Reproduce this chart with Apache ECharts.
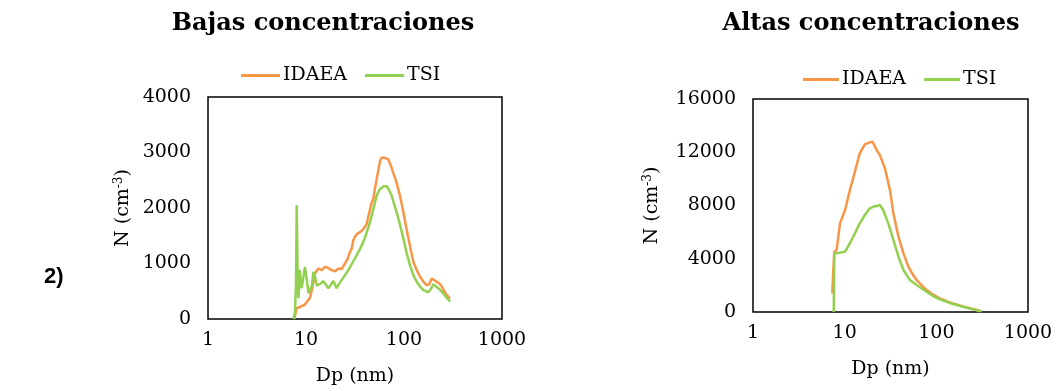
<!DOCTYPE html>
<html>
<head>
<meta charset="utf-8">
<script src="https://cdn.jsdelivr.net/npm/echarts@6/dist/echarts.min.js"></script>
<style>
html,body{margin:0;padding:0;background:#fff;}
#c{width:1063px;height:391px;}
</style>
</head>
<body>
<div id="c"></div>
<script>
// ---- data (Dp in nm, N in cm^-3) ----
const titles = ['Bajas concentraciones', 'Altas concentraciones'];
const seriesNames = ['IDAEA', 'TSI'];
const xTicks = [1, 10, 100, 1000];
const yTicksLow = [0, 1000, 2000, 3000, 4000];
const yTicksHigh = [0, 4000, 8000, 12000, 16000];

const lowIdaeaDp = [7.6,7.72,8.0,8.35,9.0,9.77,10.4,10.98,11.6,12.37,13.35,14.4,15.63,16.8,18.3,19.8,21.4,23.1,25.0,26.5,28,29.3,30.4,31.6,33.5,35.6,38.5,41.6,44,46.8,48.6,50.5,52.6,55,57,59.2,62,64,66.8,69,71.7,75,78,80.9,85,91,98,106,115,124.5,135,146,158,170,180,192,204,216,230,243,258,273,295];
const lowIdaeaN  = [0,30,190,200,230,260,330,380,560,820,910,880,940,920,880,860,910,900,1000,1080,1200,1270,1420,1480,1540,1565,1620,1715,1900,2100,2160,2350,2520,2700,2850,2910,2880,2900,2870,2880,2845,2720,2620,2550,2420,2220,1950,1625,1320,1030,880,760,670,610,620,730,700,670,640,585,500,435,365];

const lowTsiDp = [7.43,7.7,7.9,8.04,8.2,8.36,8.5,8.67,8.85,9.0,9.3,9.75,10.2,10.6,11.0,11.5,11.9,12.4,12.9,13.35,14.2,15.0,15.9,16.9,18,19.0,20.0,20.5,21.5,23.1,25,27,29.5,32.9,35.5,38.5,41.5,45,48.6,52.6,56,61.6,64,66.8,70,75,79,84.2,91,98.6,106,115,124,134.5,145,157,167,177,188,199,211,224,237,251,270,295];
const lowTsiN  = [0,100,600,2050,900,375,600,880,650,555,700,940,700,465,440,600,850,750,600,585,640,685,620,555,620,685,600,555,620,700,790,880,1000,1150,1260,1390,1550,1745,1980,2220,2330,2390,2400,2390,2330,2220,2080,1920,1700,1450,1200,970,800,670,590,525,500,480,540,625,590,555,510,465,390,315];

const highIdaeaDp = [7.33,7.5,7.7,8.17,8.9,10.1,11.4,12.95,14.6,16.6,18.8,20.1,21.2,22.3,24.2,27.5,31.2,34.0,38.6,43.8,49.6,55,60.9,70,78.4,92,109,130,152,180,214,250,300];
const highIdaeaN  = [1400,3000,4530,4660,6660,7660,9160,10540,11920,12590,12740,12800,12500,12170,11790,10790,9160,7410,5655,4405,3400,2850,2400,1980,1650,1300,1030,820,650,500,350,220,75];

const highTsiDp = [7.59,7.65,7.7,8.9,10.1,11.4,12.95,14.6,16.6,18.8,21.3,22.5,24.2,26.3,29.9,34.0,38.6,43.8,51.5,60.9,78.4,92,109,130,152,180,214,260,311];
const highTsiN  = [0,2000,4400,4460,4530,5160,5910,6660,7285,7790,7960,7950,8040,7660,6660,5410,4155,3155,2400,2030,1525,1200,950,760,600,460,325,180,50];

// ---- chart ----
const FONT = 'DejaVu Serif';
const FS = 19;
const ORANGE = '#F79646';
const GREEN = '#92D050';
const pairs = (xs, ys) => xs.map((x, i) => [x, ys[i]]);
const plain = v => String(Math.round(v));

const grids = [
  {left: 208, top: 97, width: 294, height: 224},
  {left: 753, top: 99, width: 275, height: 213}
];
const yTickSets = [yTicksLow, yTicksHigh];

const option = {
  animation: false,
  backgroundColor: '#fff',
  textStyle: {fontFamily: FONT, color: '#000'},
  title: [
    {text: titles[0], left: 318, top: 7, textAlign: 'center',
     textStyle: {fontFamily: FONT, fontWeight: 'bold', fontSize: 24, color: '#000'}},
    {text: titles[1], left: 866, top: 7, textAlign: 'center',
     textStyle: {fontFamily: FONT, fontWeight: 'bold', fontSize: 24, color: '#000'}},
    {text: '2)', left: 39, top: 261,
     textStyle: {fontFamily: 'Liberation Sans', fontWeight: 'bold', fontSize: 22, color: '#000'}}
  ],
  legend: [
    {left: 236, top: 61, itemWidth: 39, itemHeight: 3, itemGap: 18,
     data: seriesNames, icon: 'rect',
     textStyle: {fontFamily: FONT, fontSize: FS, color: '#000', padding: [0,0,0,-2]}},
    {left: 798, top: 65, itemWidth: 36, itemHeight: 3, itemGap: 18,
     data: seriesNames, icon: 'rect',
     textStyle: {fontFamily: FONT, fontSize: FS, color: '#000', padding: [0,0,0,-2]}}
  ],
  grid: grids.map(g => Object.assign({show: true, borderColor: '#000', borderWidth: 1.5, backgroundColor: 'transparent'}, g)),
  xAxis: [0, 1].map(i => ({
    gridIndex: i, type: 'log', logBase: 10, min: xTicks[0], max: xTicks[xTicks.length - 1],
    name: 'Dp (nm)', nameLocation: 'middle', nameGap: 48,
    nameTextStyle: {fontFamily: FONT, fontSize: FS, color: '#000'},
    axisLine: {show: false}, axisTick: {show: false}, splitLine: {show: false},
    axisLabel: {fontFamily: FONT, fontSize: FS, color: '#000', margin: 12, formatter: plain}
  })),
  yAxis: [0, 1].map(i => ({
    gridIndex: i, type: 'value', min: yTickSets[i][0], max: yTickSets[i][yTickSets[i].length - 1],
    interval: yTickSets[i][1] - yTickSets[i][0],
    name: '{a|N (cm}{s|-3}{a|)}', nameLocation: 'middle', nameGap: i === 0 ? 74 : 90, nameRotate: 90,
    nameTextStyle: {rich: {
      a: {fontFamily: FONT, fontSize: FS, color: '#000'},
      s: {fontFamily: FONT, fontSize: 12, color: '#000', padding: [0, 0, 9, 0]}
    }},
    axisLine: {show: false}, axisTick: {show: false}, splitLine: {show: false},
    axisLabel: {fontFamily: FONT, fontSize: FS, color: '#000', margin: 17, formatter: plain}
  })),
  series: [
    {name: seriesNames[0], type: 'line', xAxisIndex: 0, yAxisIndex: 0, data: pairs(lowIdaeaDp, lowIdaeaN)},
    {name: seriesNames[1], type: 'line', xAxisIndex: 0, yAxisIndex: 0, data: pairs(lowTsiDp, lowTsiN)},
    {name: seriesNames[0], type: 'line', xAxisIndex: 1, yAxisIndex: 1, data: pairs(highIdaeaDp, highIdaeaN)},
    {name: seriesNames[1], type: 'line', xAxisIndex: 1, yAxisIndex: 1, data: pairs(highTsiDp, highTsiN)}
  ].map((s, i) => Object.assign(s, {
    showSymbol: false, symbol: 'none',
    color: i % 2 === 0 ? ORANGE : GREEN,
    lineStyle: {width: 2.5, color: i % 2 === 0 ? ORANGE : GREEN}
  }))
};

const chart = echarts.init(document.getElementById('c'), null, {renderer: 'canvas'});
chart.setOption(option);
</script>
</body>
</html>
